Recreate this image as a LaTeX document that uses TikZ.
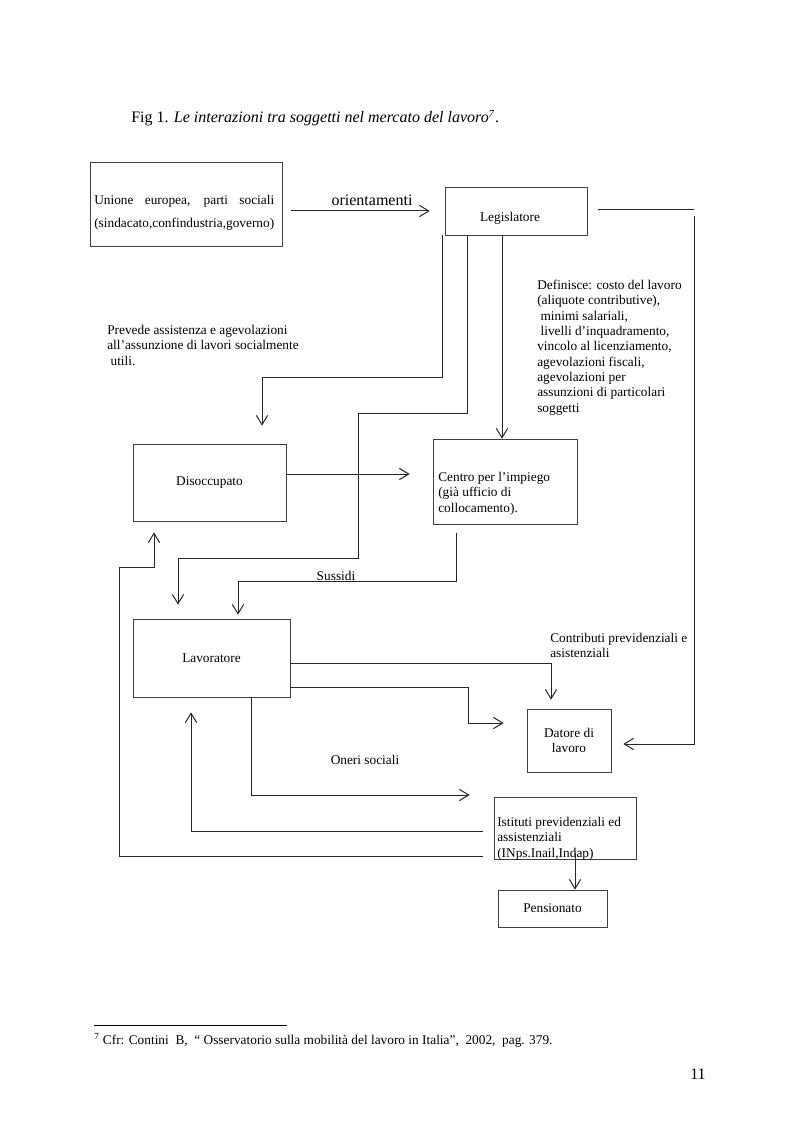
\documentclass[tikz,border=0pt]{standalone}
\usepackage{fontspec}
\setmainfont{Liberation Serif}
\usetikzlibrary{arrows.meta}

\begin{document}
\begin{tikzpicture}[x=0.75pt,y=-0.75pt,
	box/.style={shape=rectangle,draw=black!75,line width=0.5pt,inner sep=0pt},
	conn/.style={draw=black!85,line width=0.75pt},
	arr/.style={conn,-{Straight Barb[length=7pt,width=8.5pt]}},
	txt/.style={font=\fontsize{10}{11.5}\selectfont,inner sep=0pt},
	big/.style={font=\fontsize{12}{14}\selectfont,inner sep=0pt}]
	
	\useasboundingbox (0,0) rectangle (793,1123);
	
	\node[big,anchor=base west] (fig) at (131,123) {Fig 1. \textit{Le interazioni tra soggetti nel mercato del lavoro}\textsuperscript{\textit{7}}.};
	
	\node[box,minimum width=144pt,minimum height=63pt] (ue) at (186,204) {};
	\node[box,minimum width=106.5pt,minimum height=36pt] (leg) at (516,211) {};
	\node[box,txt,minimum width=114.75pt,minimum height=57.75pt] (dis) at (209.5,482.5) {Disoccupato};
	\node[box,minimum width=108pt,minimum height=63.75pt] (cen) at (505,481.5) {};
	\node[box,txt,minimum width=117.75pt,minimum height=58.5pt] (lav) at (211.5,658) {Lavoratore};
	\node[box,txt,align=center,minimum width=63pt,minimum height=47.25pt] (dat) at (569,740.5) {Datore di\\lavoro};
	\node[box,minimum width=106.5pt,minimum height=46.5pt] (ist) at (565,828) {};
	\node[box,txt,minimum width=81.75pt,minimum height=27.75pt] (pen) at (552.5,908.5) {Pensionato};
	
	\node[txt,anchor=north west,align=left] (ue-t) at (94,195) {\makebox[135pt][s]{Unione europea, parti sociali}\\[5.75pt](sindacato,confindustria,governo)};
	\node[txt,anchor=base] (leg-t) at (510,222) {Legislatore};
	\node[txt,anchor=north west,align=left] (cen-t) at (438,472) {Centro per l’impiego\\(già ufficio di\\collocamento).};
	\node[txt,anchor=north west,align=left] (ist-t) at (497,817) {Istituti previdenziali ed\\assistenziali\\(INps.Inail,Indap)};
	
	\node[big,anchor=base] (ori) at (372,206) {orientamenti};
	\node[txt,anchor=north west,align=left] (def) at (537,280) {Definisce: costo del lavoro\\(aliquote contributive),\\\hspace*{2.5pt}minimi salariali,\\\hspace*{2.5pt}livelli d’inquadramento,\\vincolo al licenziamento,\\agevolazioni fiscali,\\agevolazioni per\\assunzioni di particolari\\soggetti};
	\node[txt,anchor=north west,align=left] (prev) at (107,325) {Prevede assistenza e agevolazioni\\all’assunzione di lavori socialmente\\\hspace*{2.5pt}utili.};
	\node[txt,anchor=base] (sus) at (336,580) {Sussidi};
	\node[txt,anchor=north west,align=left] (contr) at (550,633) {Contributi previdenziali e\\asistenziali};
	\node[txt,anchor=base] (oneri) at (365,764) {Oneri sociali};
	
	\draw[arr,shorten <=6.75pt,shorten >=11.25pt] (ue.east |- 0,211) -- (leg.west |- 0,211);
	\draw[conn,shorten <=8.25pt] (leg.east |- 0,210) -- (694,210);
	\draw[arr,shorten >=9pt] (694,216) |- (dat.east |- 0,744);
	\draw[arr,shorten >=13.5pt] (leg.south -| 442,0) |- (262,377) -- (dis.north -| 262,0);
	\draw[arr,shorten >=10.5pt] (leg.south -| 467,0) |- (358,413) |- (178,558) -- (lav.north -| 178,0);
	\draw[arr] (leg.south -| 502,0) -- (cen.north -| 502,0);
	\draw[arr,shorten >=17.25pt] (dis.east |- 0,474) -- (cen.west |- 0,474);
	\draw[arr,shorten <=6.75pt,shorten >=3pt] (cen.south -| 456,0) |- (238,581) -- (lav.north -| 238,0);
	\draw[arr,shorten >=6.75pt] (lav.east |- 0,663) -| (dat.north -| 551,0);
	\draw[arr,shorten >=17.25pt] (lav.east |- 0,687) -| (468,723) -- (dat.west |- 0,723);
	\draw[arr,shorten >=18pt] (lav.south -| 251,0) |- (ist.west |- 0,795);
	\draw[arr,shorten <=8.25pt,shorten >=11.25pt] (ist.west |- 0,831) -| (lav.south -| 191,0);
	\draw[arr,shorten <=8.25pt,shorten >=8.25pt] (ist.west |- 0,856) -| (119,567) -| (dis.south -| 154,0);
	\draw[arr] ([yshift=5pt]ist.south -| 575,0) -- (pen.north -| 575,0);
	
	\draw[line width=0.5pt] (94,1025) -- (287,1025);
	\node[txt,anchor=base west] (fn) at (94,1044) {\textsuperscript{7} Cfr: Contini\ \ B,\ \ “ Osservatorio sulla mobilità del lavoro in Italia”,\ \ 2002,\ \ pag. 379.};
	\node[big,anchor=base east] (pg) at (706,1079) {11};
	
\end{tikzpicture}
\end{document}
